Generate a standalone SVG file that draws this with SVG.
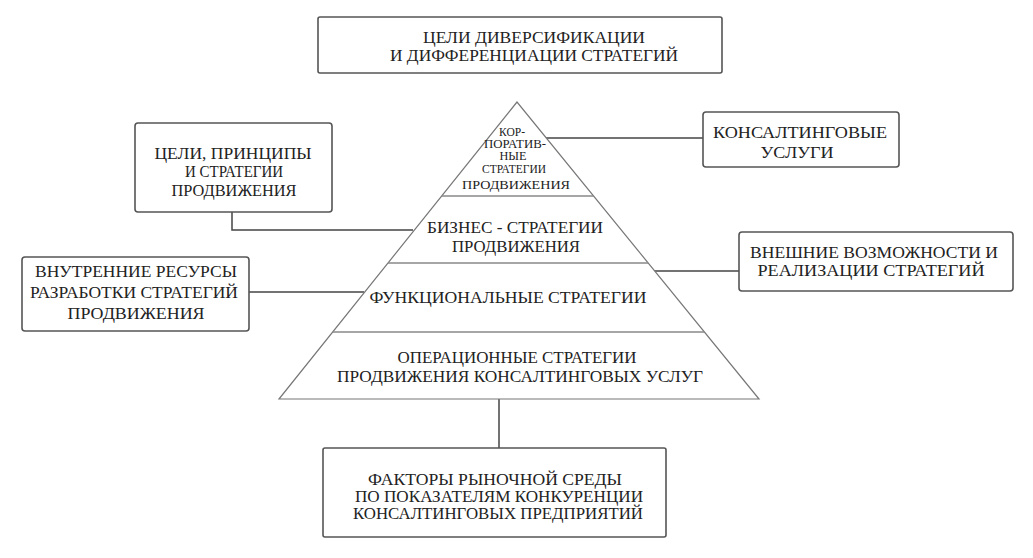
<svg xmlns="http://www.w3.org/2000/svg" width="1033" height="558" viewBox="0 0 1033 558" font-family="'Liberation Serif', 'Times New Roman', Times, serif">
<style>
.box{fill:#fff;stroke:#555;stroke-width:1.6}
text{fill:#222;text-anchor:middle}
.t{font-size:17px}
.s{font-size:12.5px}
.pyr{fill:#fff;stroke:#777;stroke-width:1.2}
.div{stroke:#888;stroke-width:1.4}
.con{fill:none;stroke:#444;stroke-width:1.5}
</style>
<rect width="1033" height="558" fill="#fff"/>
<g id="goals">
<rect class="box" x="318" y="17" width="404" height="56" rx="2"/>
<text class="t" x="534" y="43" textLength="222" lengthAdjust="spacingAndGlyphs">ЦЕЛИ ДИВЕРСИФИКАЦИИ</text>
<text class="t" x="534" y="61" textLength="288" lengthAdjust="spacingAndGlyphs">И ДИФФЕРЕНЦИАЦИИ СТРАТЕГИЙ</text>
</g>
<g id="connectors">
<path class="con" d="M546 138 H703"/>
<path class="con" d="M232 212 V230 H413"/>
<path class="con" d="M249 292 H364"/>
<path class="con" d="M654 271 H739"/>
<path class="con" d="M499 399 V448"/>
</g>
<g id="pyramid">
<polygon class="pyr" points="517,102 279,399 759,399"/>
<line class="div" x1="442" y1="196" x2="594" y2="196"/>
<line class="div" x1="388" y1="263" x2="648" y2="263"/>
<line class="div" x1="333" y1="332" x2="704" y2="332"/>
</g>
<g id="corporate">
<text class="s" x="512" y="136" textLength="26" lengthAdjust="spacingAndGlyphs">КОР-</text>
<text class="s" x="515" y="148" textLength="62" lengthAdjust="spacingAndGlyphs">ПОРАТИВ-</text>
<text class="s" x="513" y="160" textLength="27" lengthAdjust="spacingAndGlyphs">НЫЕ</text>
<text class="s" x="514" y="173" textLength="64" lengthAdjust="spacingAndGlyphs">СТРАТЕГИИ</text>
<text class="s" x="516" y="189" textLength="108" lengthAdjust="spacingAndGlyphs">ПРОДВИЖЕНИЯ</text>
</g>
<g id="business">
<text class="t" x="515" y="233" textLength="176" lengthAdjust="spacingAndGlyphs">БИЗНЕС - СТРАТЕГИИ</text>
<text class="t" x="516" y="252" textLength="128" lengthAdjust="spacingAndGlyphs">ПРОДВИЖЕНИЯ</text>
</g>
<g id="functional">
<text class="t" x="508" y="303" textLength="277" lengthAdjust="spacingAndGlyphs">ФУНКЦИОНАЛЬНЫЕ СТРАТЕГИИ</text>
</g>
<g id="operational">
<text class="t" x="517" y="363" textLength="239" lengthAdjust="spacingAndGlyphs">ОПЕРАЦИОННЫЕ СТРАТЕГИИ</text>
<text class="t" x="520" y="382" textLength="366" lengthAdjust="spacingAndGlyphs">ПРОДВИЖЕНИЯ КОНСАЛТИНГОВЫХ УСЛУГ</text>
</g>
<g id="principles">
<rect class="box" x="135" y="123" width="197" height="89" rx="3"/>
<text class="t" x="233" y="159" textLength="157" lengthAdjust="spacingAndGlyphs">ЦЕЛИ, ПРИНЦИПЫ</text>
<text class="t" x="234" y="177" textLength="98" lengthAdjust="spacingAndGlyphs">И СТРАТЕГИИ</text>
<text class="t" x="234" y="196" textLength="125" lengthAdjust="spacingAndGlyphs">ПРОДВИЖЕНИЯ</text>
</g>
<g id="consulting">
<rect class="box" x="703" y="112" width="196" height="55" rx="3"/>
<text class="t" x="800" y="138" textLength="174" lengthAdjust="spacingAndGlyphs">КОНСАЛТИНГОВЫЕ</text>
<text class="t" x="797" y="158" textLength="73" lengthAdjust="spacingAndGlyphs">УСЛУГИ</text>
</g>
<g id="internal">
<rect class="box" x="22" y="257" width="227" height="74" rx="3"/>
<text class="t" x="136" y="277" textLength="202" lengthAdjust="spacingAndGlyphs">ВНУТРЕННИЕ РЕСУРСЫ</text>
<text class="t" x="134" y="298" textLength="208" lengthAdjust="spacingAndGlyphs">РАЗРАБОТКИ СТРАТЕГИЙ</text>
<text class="t" x="136" y="319" textLength="137" lengthAdjust="spacingAndGlyphs">ПРОДВИЖЕНИЯ</text>
</g>
<g id="external">
<rect class="box" x="739" y="232" width="274" height="59" rx="3"/>
<text class="t" x="874" y="258" textLength="248" lengthAdjust="spacingAndGlyphs">ВНЕШНИЕ ВОЗМОЖНОСТИ И</text>
<text class="t" x="871" y="276" textLength="227" lengthAdjust="spacingAndGlyphs">РЕАЛИЗАЦИИ СТРАТЕГИЙ</text>
</g>
<g id="market">
<rect class="box" x="323" y="448" width="343" height="89" rx="2"/>
<text class="t" x="495" y="485" textLength="254" lengthAdjust="spacingAndGlyphs">ФАКТОРЫ РЫНОЧНОЙ СРЕДЫ</text>
<text class="t" x="499" y="502" textLength="288" lengthAdjust="spacingAndGlyphs">ПО ПОКАЗАТЕЛЯМ КОНКУРЕНЦИИ</text>
<text class="t" x="498" y="519" textLength="290" lengthAdjust="spacingAndGlyphs">КОНСАЛТИНГОВЫХ ПРЕДПРИЯТИЙ</text>
</g>
</svg>
